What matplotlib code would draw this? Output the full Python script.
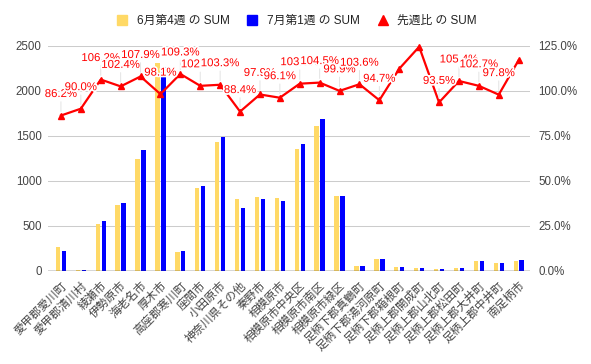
import matplotlib
matplotlib.use('Agg')
import matplotlib.pyplot as plt
import numpy as np
from matplotlib.lines import Line2D
import matplotlib.patheffects as pe
from matplotlib.ticker import FuncFormatter

plt.rcParams['font.family'] = ['Liberation Sans', 'Noto Sans CJK JP']

categories = ['愛甲郡愛川町', '愛甲郡清川村', '綾瀬市', '伊勢原市', '海老名市', '厚木市',
              '高座郡寒川町', '座間市', '小田原市', '神奈川県その他', '秦野市', '相模原市',
              '相模原市中央区', '相模原市南区', '相模原市緑区', '足柄下郡真鶴町',
              '足柄下郡湯河原町', '足柄下郡箱根町', '足柄上郡開成町', '足柄上郡山北町',
              '足柄上郡松田町', '足柄上郡大井町', '足柄上郡中井町', '南足柄市']
week_jun4 = [260, 10, 515, 730, 1237, 2304, 205, 920, 1435, 793, 815, 805,
             1350, 1608, 830, 48, 135, 38, 28, 23, 30, 104, 83, 106]
week_jul1 = [224, 9, 548, 748, 1337, 2260, 224, 945, 1482, 701, 798, 774,
             1403, 1680, 829, 50, 128, 43, 35, 21.5, 31.6, 106.8, 81, 124]
ratio = [86.2, 90.0, 106.2, 102.4, 107.9, 98.1, 109.3, 102.7, 103.3, 88.4, 97.9, 96.1,
         103.9, 104.5, 99.9, 103.6, 94.7, 112.2, 124.4, 93.5, 105.4, 102.7, 97.8, 117.0]
label_shown = [True] * 17 + [False, False] + [True] * 4 + [False]
series_names = ['6月第4週 の SUM', '7月第1週 の SUM', '先週比 の SUM']
left_ticks = [0, 500, 1000, 1500, 2000, 2500]
right_ticks = [0, 25, 50, 75, 100, 125]

YELLOW = '#FFD966'
BLUE = '#0000FF'
RED = '#FF0000'
TICK_C = '#444444'

fig = plt.figure(figsize=(5.91, 3.64), dpi=100)
ax = fig.add_axes([48 / 591, 1 - 270.7 / 364, (530 - 48) / 591, 225 / 364])
x = np.arange(len(categories))
off = 0.149
w = 0.22
ax.bar(x - off, week_jun4, width=w, color=YELLOW, zorder=2)
ax.bar(x + off, week_jul1, width=w, color=BLUE, zorder=2)
ax.set_xlim(-0.65, len(categories) - 1 + 0.57)
ax.set_ylim(0, 2500)
ax.set_yticks(left_ticks)
ax.set_yticklabels([str(t) for t in left_ticks])
ax.yaxis.grid(True, color='#cccccc', linewidth=0.75, zorder=0)
ax.set_axisbelow(True)
for s in ['top', 'right', 'left', 'bottom']:
    ax.spines[s].set_visible(False)
ax.axhline(0, color='#333333', linewidth=1.0, zorder=3)
ax.tick_params(axis='y', length=0, pad=4.5, labelsize=8.3, labelcolor=TICK_C)
ax.set_xticks(x)
ax.set_xticklabels(categories, rotation=45, ha='right', va='top',
                   rotation_mode='anchor', fontsize=8.3, color=TICK_C)
ax.tick_params(axis='x', length=0, pad=6.5)

ax2 = ax.twinx()
ax2.set_ylim(0, 125)
ax2.set_yticks(right_ticks)
ax2.yaxis.set_major_formatter(FuncFormatter(lambda v, p: f'{v:.1f}%'))
ax2.tick_params(axis='y', length=0, pad=5.8, labelsize=8.3, labelcolor=TICK_C)
for s in ['top', 'right', 'left', 'bottom']:
    ax2.spines[s].set_visible(False)
ax2.plot(x, ratio, color=RED, linewidth=1.6, marker='^', markersize=4.5, zorder=4,
         clip_on=False)

for i, (xi, v) in enumerate(zip(x, ratio)):
    if not label_shown[i]:
        continue
    ax2.annotate(f'{v:.1f}%', xy=(xi, v), xytext=(0, 15.5), textcoords='offset points',
                 ha='center', va='center', fontsize=8.2, color=RED, zorder=5,
                 path_effects=[pe.withStroke(linewidth=2.5, foreground='white')],
                 arrowprops=dict(arrowstyle='-', color='#e3e3e3', lw=0.7,
                                 shrinkA=0, shrinkB=3))

handles = [
    Line2D([], [], linestyle='none', marker='s', markersize=7.2, color=YELLOW),
    Line2D([], [], linestyle='none', marker='s', markersize=7.2, color=BLUE),
    Line2D([], [], linestyle='none', marker='^', markersize=7.5, color=RED),
]
fig.legend(handles, series_names, loc='center', bbox_to_anchor=(0.502, 1 - 21 / 364),
           ncol=3, frameon=False, fontsize=8.5, handlelength=1.0, handletextpad=0.75,
           columnspacing=1.4, labelcolor='#222222', borderaxespad=0, borderpad=0)

fig.savefig('out.png', dpi=100)
